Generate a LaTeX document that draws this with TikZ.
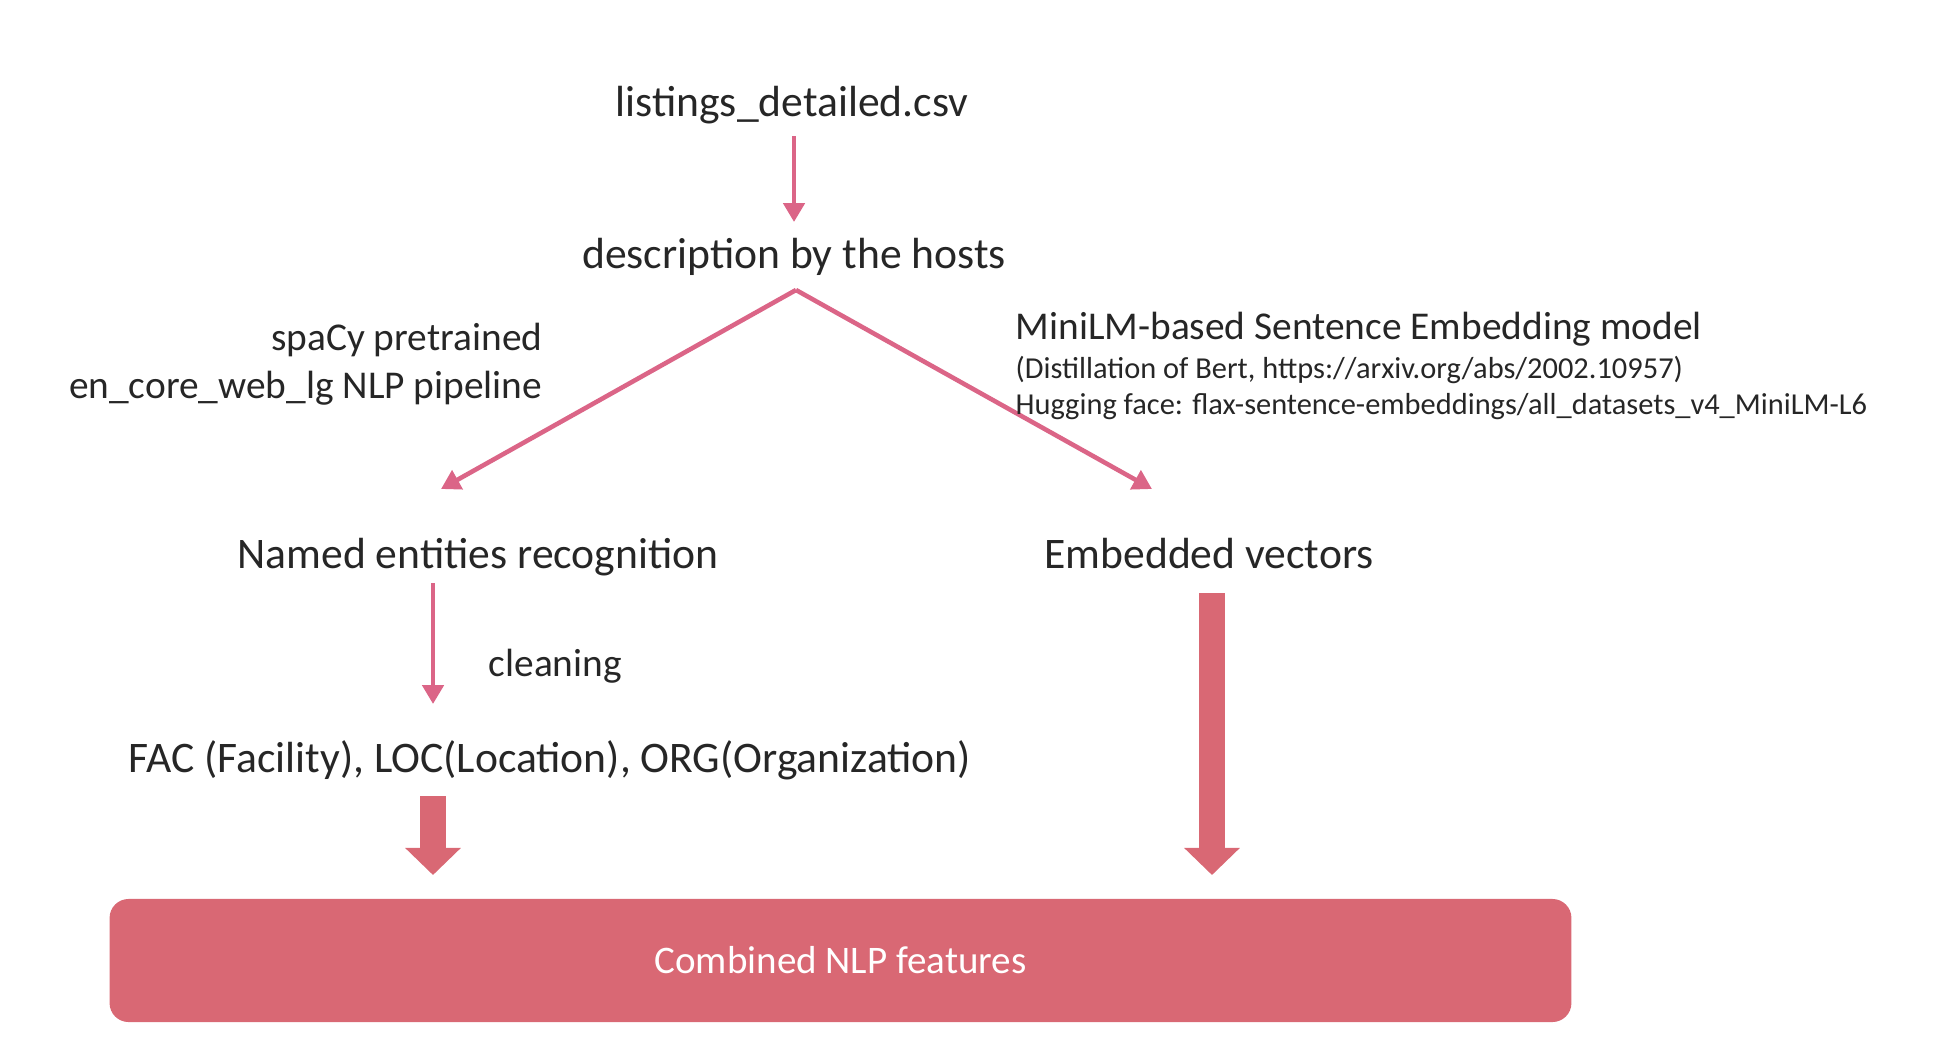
\documentclass[tikz,border=0pt]{standalone}
\usepackage{fontspec}
\setmainfont{Carlito}
\usetikzlibrary{arrows.meta}
\definecolor{roseline}{RGB}{219,101,135}
\definecolor{roseblock}{RGB}{217,104,116}

\begin{document}
\begin{tikzpicture}[x = 0.01cm, y = -0.01cm,
  txt/.style = {inner sep = 0pt, text = black!85, font = \fontsize{12.4}{14}\selectfont},
  mid/.style = {inner sep = 0pt, text = black!85, font = \fontsize{11.2}{13.7}\selectfont},
  fine/.style = {inner sep = 0pt, text = black!85, font = \fontsize{8.65}{10}\selectfont},
  thinarrow/.style = {draw = roseline, line width = 1.3pt, -{Triangle[width = 6pt, length = 5.4pt]}},
  blockarrow/.style = {draw = roseblock, line width = 7.4pt, -{Triangle[width = 15.4pt, length = 7.7pt]}}]
\useasboundingbox (0,0) rectangle (1936,1042);

% source and host description
\node[txt] (csv) at (792,105) {listings\_detailed.csv};
\node[txt] (desc) at (794,257) {description by the hosts};
\coordinate (csv-out) at (794,136);
\coordinate (desc-in) at (794,222);
\draw[thinarrow] (csv-out) - - (desc-in);

% the two branches
\coordinate (desc-out) at (796,290);
\coordinate (ner-in) at (441,489);
\coordinate (emb-in) at (1152,489);
\draw[thinarrow] (desc-out) - - (ner-in);
\draw[thinarrow] (desc-out) - - (emb-in);
\node[mid, anchor = east, align = right] (spacy) at (543,364) {spaCy pretrained\\en\_core\_web\_lg NLP pipeline};
\node[mid, anchor = west] (mini) at (1015,329) {MiniLM-based Sentence Embedding model};
\node[fine, anchor = west] (distil) at (1015,370) {(Distillation of Bert, https://arxiv.org/abs/2002.10957)};
\node[fine, anchor = west] (hug) at (1015,407) {Hugging face: flax-sentence-embeddings/all\_datasets\_v4\_MiniLM-L6};

\node[txt] (ner) at (478,557) {Named entities recognition};
\node[txt] (emb) at (1209,554) {Embedded vectors};

% cleaning step
\coordinate (ner-out) at (433,583);
\coordinate (fac-in) at (433,704);
\draw[thinarrow] (ner-out) - - (fac-in);
\node[mid, anchor = west] (clean) at (488,666) {cleaning};
\node[txt] (fac) at (550,760) {FAC (Facility), LOC(Location), ORG(Organization)};

% combined features
\node[fill = roseblock, rounded corners = 5.4pt, minimum width = 14.61cm, minimum height = 1.23cm,
  text = white, font = \fontsize{11.1}{13}\selectfont] (comb) at (840.5,960.5) {Combined NLP features};
\coordinate (fac-out) at (433,796);
\coordinate (comb-left) at (433,875);
\coordinate (emb-out) at (1212,593);
\coordinate (comb-right) at (1212,875);
\draw[blockarrow] (fac-out) - - (comb-left);
\draw[blockarrow] (emb-out) - - (comb-right);

\end{tikzpicture}
\end{document}
